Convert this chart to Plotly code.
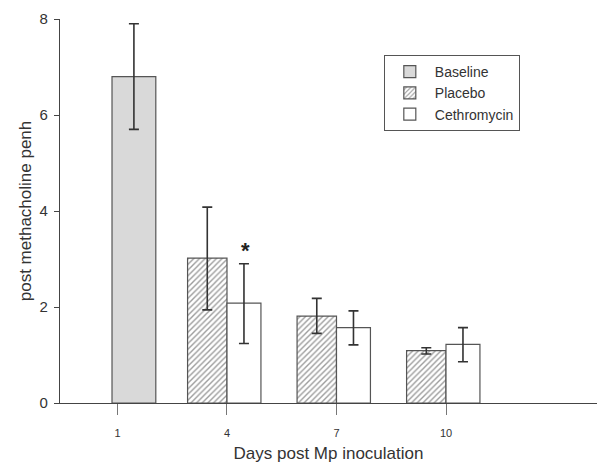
import plotly.graph_objects as go

days = ["1", "4", "7", "10"]
baseline_days = ["1"]
baseline_vals = [6.8]
baseline_hi = [7.9]
baseline_lo = [5.7]

treat_days = ["4", "7", "10"]
placebo_vals = [3.02, 1.81, 1.09]
placebo_hi = [4.08, 2.18, 1.15]
placebo_lo = [1.94, 1.45, 1.02]
cethro_vals = [2.08, 1.57, 1.22]
cethro_hi = [2.9, 1.92, 1.57]
cethro_lo = [1.24, 1.21, 0.86]

def err(vals, hi, lo):
    return dict(type="data", symmetric=False,
                array=[h - v for h, v in zip(hi, vals)],
                arrayminus=[v - l for v, l in zip(vals, lo)],
                color="#333333", thickness=1.6, width=5)

edge = "#555555"
fig = go.Figure()
fig.add_trace(go.Bar(
    name="Baseline", x=baseline_days, y=baseline_vals,
    width=0.40, offset=-0.05,
    marker=dict(color="#d9d9d9", line=dict(color=edge, width=1.2)),
    error_y=err(baseline_vals, baseline_hi, baseline_lo)))
fig.add_trace(go.Bar(
    name="Placebo", x=treat_days, y=placebo_vals,
    width=0.36, offset=-0.36,
    marker=dict(color="white", line=dict(color=edge, width=1.2),
                pattern=dict(shape="/", fgcolor="#3a3a3a", bgcolor="white",
                             size=4, solidity=0.35)),
    error_y=err(placebo_vals, placebo_hi, placebo_lo)))
fig.add_trace(go.Bar(
    name="Cethromycin", x=treat_days, y=cethro_vals,
    width=0.31, offset=0,
    marker=dict(color="white", line=dict(color=edge, width=1.2)),
    error_y=err(cethro_vals, cethro_hi, cethro_lo)))

fig.add_annotation(x=1.165, y=cethro_hi[0], yshift=-1, text="<b>*</b>",
                   showarrow=False, font=dict(size=22, color="#222222"),
                   yanchor="bottom", xref="x", yref="y")

font = "Liberation Sans, Arial, sans-serif"
fig.update_layout(
    width=597, height=463,
    margin=dict(l=60, r=0, t=19, b=60, autoexpand=False),
    paper_bgcolor="white", plot_bgcolor="white",
    barmode="overlay",
    font=dict(family=font, color="#333333"),
    showlegend=True,
    legend=dict(x=0.603, y=0.906, xanchor="left", yanchor="top",
                bordercolor="#555555", borderwidth=1, bgcolor="white",
                font=dict(size=14, color="#333333"),
                tracegroupgap=0, itemwidth=40),
    xaxis=dict(type="category", categoryorder="array", categoryarray=days,
               range=[-0.525, 4.379], showline=True, linecolor="#444444",
               linewidth=1.2, ticks="outside", ticklen=11, tickcolor="#777777",
               tickfont=dict(size=11, color="#333333"), automargin=False,
               ticklabelstandoff=9,
               title=dict(text="Days post Mp inoculation",
                          font=dict(size=17, color="#333333"), standoff=19),
               showgrid=False, zeroline=False),
    yaxis=dict(range=[0, 8], tickvals=[0, 2, 4, 6, 8], showline=True,
               linecolor="#444444", linewidth=1.2, ticks="outside", ticklen=5,
               tickcolor="#444444", tickfont=dict(size=15, color="#333333"),
               automargin=False, ticklabelstandoff=3,
               title=dict(text="post methacholine penh",
                          font=dict(size=17, color="#333333"), standoff=3),
               showgrid=False, zeroline=False),
)

fig.write_html("out.html", config={"displayModeBar": False},
               post_script="document.body.style.margin='0';"
                           "document.body.style.overflow='hidden';")
